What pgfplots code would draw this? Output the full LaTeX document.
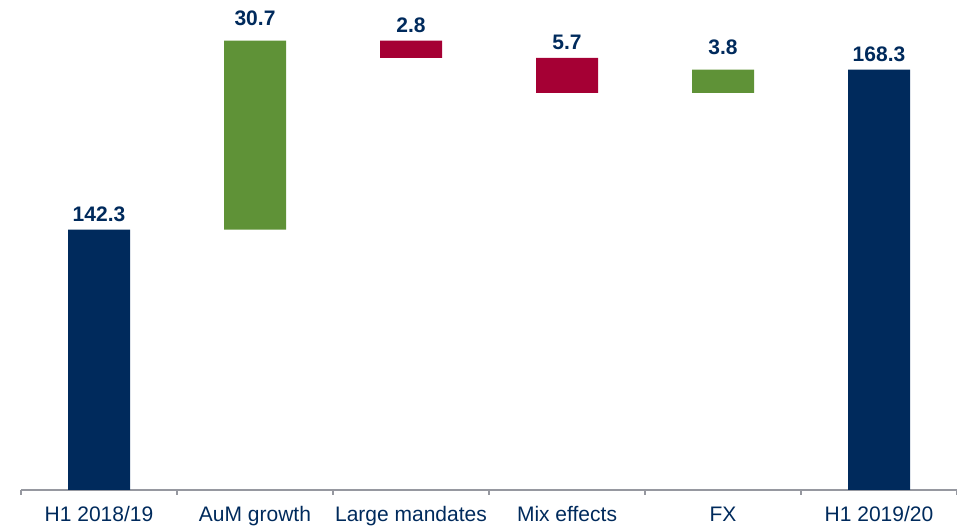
\documentclass[border=0pt]{standalone}
\usepackage{pgfplots}
\pgfplotsset{compat=1.18}
\usepackage{fontspec}
\setmainfont{Liberation Sans}
\definecolor{navy}{RGB}{0,42,92}
\definecolor{wgreen}{RGB}{95,146,55}
\definecolor{wred}{RGB}{165,0,52}
\definecolor{axgray}{RGB}{150,152,160}
\pgfplotsset{
  wfaxis/.style={
    at={(21pt,37pt)}, anchor=south west,
    scale only axis, width=936pt, height=490pt,
    xmin=-0.5, xmax=5.5, ymin=100, ymax=179.6,
  }
}
\begin{document}
\begin{tikzpicture}
\path[use as bounding box] (0pt,0pt) rectangle (957pt,527pt);
\begin{axis}[
  wfaxis,
  ybar stacked, bar width=62pt,
  axis x line*=bottom, hide y axis,
  x axis line style={axgray, line width=1.5pt},
  xtick={0,...,5},
  xticklabels={H1 2018/19, AuM growth, Large mandates, Mix effects, FX, H1 2019/20},
  major tick length=0pt,
  major x tick style={draw=none},
  minor xtick={-0.5,0.5,1.5,2.5,3.5,4.5,5.5},
  minor tick length=5pt, tick align=outside,
  minor x tick style={axgray, line width=1.2pt},
  xticklabel style={font=\fontsize{21}{24}\selectfont, text=navy, anchor=base, yshift=-32pt},
]
% invisible base
\addplot[draw=none, fill=none] coordinates {(0,0) (1,142.3) (2,170.2) (3,164.5) (4,164.5) (5,0)};
% totals
\addplot[fill=navy, draw=none] coordinates {(0,142.3) (1,0) (2,0) (3,0) (4,0) (5,168.3)};
% increases
\addplot[fill=wgreen, draw=none] coordinates {(0,0) (1,30.7) (2,0) (3,0) (4,3.8) (5,0)};
% decreases
\addplot[fill=wred, draw=none] coordinates {(0,0) (1,0) (2,2.8) (3,5.7) (4,0) (5,0)};
\end{axis}
% value labels, same frame, no stacking
\begin{axis}[
  wfaxis, hide axis,
  point meta=explicit symbolic,
  every node near coord/.style={font=\bfseries\fontsize{21}{24}\selectfont, text=navy, anchor=south, inner sep=0pt},
]
\addplot[draw=none, mark=none, nodes near coords, nodes near coords style={yshift=7.5pt}]
  coordinates {(0,142.3) [142.3] (5,168.3) [168.3]};
\addplot[draw=none, mark=none, nodes near coords, nodes near coords style={yshift=14.5pt}]
  coordinates {(1,173.0) [30.7] (4,168.3) [3.8]};
\addplot[draw=none, mark=none, nodes near coords, nodes near coords style={yshift=8pt}]
  coordinates {(2,173.0) [2.8] (3,170.2) [5.7]};
\end{axis}
\end{tikzpicture}
\end{document}
